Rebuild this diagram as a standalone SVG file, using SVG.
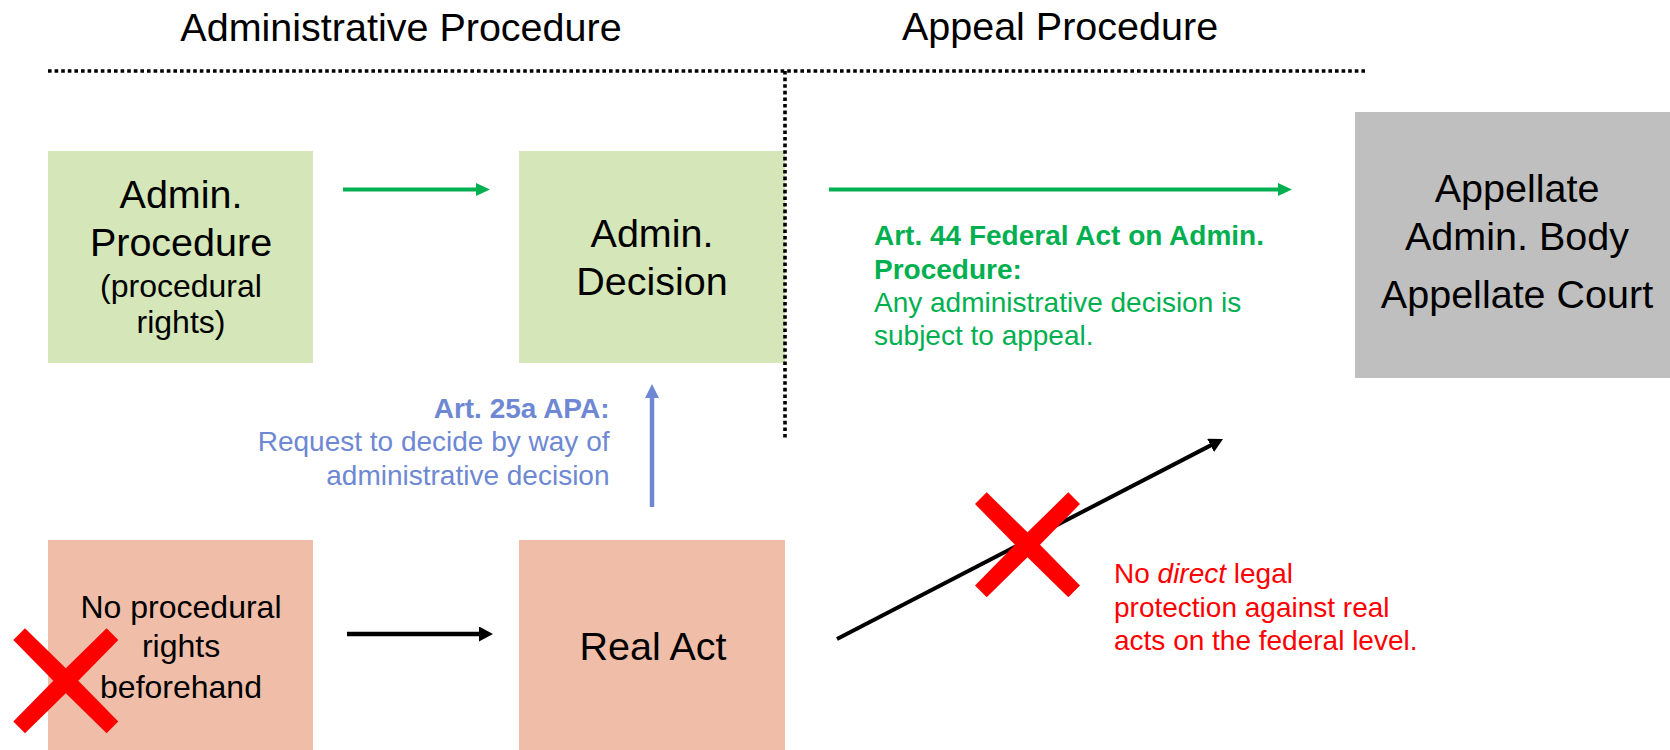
<svg xmlns="http://www.w3.org/2000/svg" width="1670" height="750" viewBox="0 0 1670 750">
<style>
text{font-family:"Liberation Sans",Arial,sans-serif;}
.title{font-size:39.5px;fill:#000;text-anchor:middle;}
.big{font-size:39.5px;fill:#000;text-anchor:middle;}
.small{font-size:32px;fill:#000;text-anchor:middle;}
.note{font-size:28px;}
.green{fill:#00B050;}
.blue{fill:#6E88D3;}
.red{fill:#FF0000;}
.b{font-weight:bold;}
.dot{stroke:#000;stroke-width:3.6;stroke-dasharray:3.6 3;fill:none;}
.boxg{fill:#D5E7B8;}
.boxp{fill:#F0BEA8;}
.boxgr{fill:#BFBFBF;}
.cross{fill:#FF0000;}
</style>
<defs>
<marker id="hg" markerUnits="userSpaceOnUse" markerWidth="14" markerHeight="13" refX="4" refY="6.5" orient="auto"><path d="M0,0 L14,6.5 L0,13 z" fill="#00B050"/></marker>
<marker id="hb" markerUnits="userSpaceOnUse" markerWidth="14" markerHeight="14" refX="4" refY="7" orient="auto"><path d="M0,0 L14,7 L0,14 z" fill="#6E88D3"/></marker>
<marker id="hk" markerUnits="userSpaceOnUse" markerWidth="14" markerHeight="15" refX="4" refY="7.5" orient="auto"><path d="M0,0 L14,7.5 L0,15 z" fill="#000"/></marker>
<path id="xshape" d="M-52.5,-40.8 L-40.8,-52.5 L0,-12.5 L40.8,-52.5 L52.5,-40.8 L12.5,0 L52.5,40.8 L40.8,52.5 L0,12.5 L-40.8,52.5 L-52.5,40.8 L-12.5,0 z"/>
</defs>

<g id="headers">
<text class="title" x="401" y="41">Administrative Procedure</text>
<text class="title" x="1060" y="40">Appeal Procedure</text>
</g>

<g id="node-admin-procedure">
<rect class="boxg" x="48" y="151" width="265" height="212"/>
<text class="big" x="181" y="208">Admin.</text>
<text class="big" x="181" y="256">Procedure</text>
<text class="small" x="181" y="297">(procedural</text>
<text class="small" x="181" y="333">rights)</text>
</g>

<g id="node-admin-decision">
<rect class="boxg" x="519" y="151" width="266" height="212"/>
<text class="big" x="652" y="247">Admin.</text>
<text class="big" x="652" y="295">Decision</text>
</g>

<g id="node-appellate">
<rect class="boxgr" x="1355" y="112" width="315" height="266"/>
<text class="big" x="1517" y="202">Appellate</text>
<text class="big" x="1517" y="250">Admin. Body</text>
<text class="big" x="1517" y="308">Appellate Court</text>
</g>

<g id="node-no-rights">
<rect class="boxp" x="48" y="540" width="265" height="210"/>
<text class="small" x="181" y="618">No procedural</text>
<text class="small" x="181" y="657">rights</text>
<text class="small" x="181" y="698">beforehand</text>
</g>

<g id="node-real-act">
<rect class="boxp" x="519" y="540" width="266" height="210"/>
<text class="big" x="653" y="660">Real Act</text>
</g>

<g id="dividers">
<line class="dot" x1="48" y1="71" x2="1366" y2="71"/>
<line class="dot" x1="785" y1="71" x2="785" y2="438"/>
</g>

<g id="connectors">
<line x1="343" y1="189.5" x2="480" y2="189.5" stroke="#00B050" stroke-width="4" marker-end="url(#hg)"/>
<line x1="829" y1="189.5" x2="1282" y2="189.5" stroke="#00B050" stroke-width="4" marker-end="url(#hg)"/>
<line x1="652" y1="507" x2="652" y2="394" stroke="#6E88D3" stroke-width="4.5" marker-end="url(#hb)"/>
<line x1="347" y1="634" x2="483" y2="634" stroke="#000" stroke-width="4.5" marker-end="url(#hk)"/>
<line x1="837" y1="639" x2="1214.1" y2="443.6" stroke="#000" stroke-width="4" marker-end="url(#hk)"/>
</g>

<g id="labels">
<text class="note green b" x="874" y="245">Art. 44 Federal Act on Admin.</text>
<text class="note green b" x="874" y="279">Procedure:</text>
<text class="note green" x="874" y="312">Any administrative decision is</text>
<text class="note green" x="874" y="345">subject to appeal.</text>
<text class="note blue b" x="609.5" y="418" text-anchor="end">Art. 25a APA:</text>
<text class="note blue" x="609.5" y="451" text-anchor="end">Request to decide by way of</text>
<text class="note blue" x="609.5" y="485" text-anchor="end">administrative decision</text>
<text class="note red" x="1114" y="583">No <tspan font-style="italic">direct</tspan> legal</text>
<text class="note red" x="1114" y="617">protection against real</text>
<text class="note red" x="1114" y="650">acts on the federal level.</text>
</g>

<g id="crosses">
<use href="#xshape" class="cross" transform="translate(65.8,680.8)"/>
<use href="#xshape" class="cross" transform="translate(1027.5,544.8)"/>
</g>
</svg>
